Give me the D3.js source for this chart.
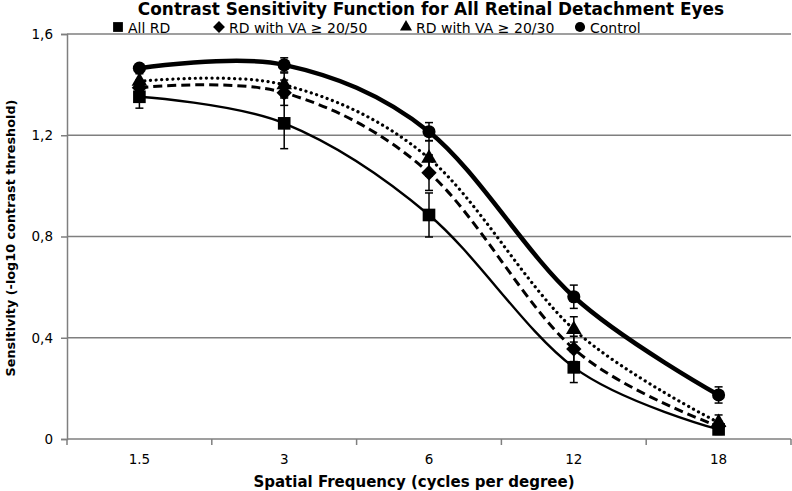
<!DOCTYPE html>
<html><head><meta charset="utf-8">
<script src="https://cdn.jsdelivr.net/npm/d3@7"></script>
<style>body{margin:0;background:#fff;} text{font-family:"DejaVu Sans",Verdana,sans-serif;}</style>
</head><body>
<svg id="c" width="792" height="491"></svg>
<script>
const categories = ["1.5","3","6","12","18"];
const yTicks = [0,0.4,0.8,1.2,1.6];
const allRD = [1.352,1.247,0.885,0.283,0.038];
const allRDErr = [0.045,0.1,0.087,0.06,0.02];
const va50 = [1.388,1.368,1.052,0.356,0.05];
const va50Err = [0.03,0.05,0.07,0.05,0.02];
const va30 = [1.413,1.399,1.109,0.433,0.065];
const va30Err = [0.03,0.047,0.07,0.05,0.03];
const control = [1.465,1.478,1.214,0.562,0.174];
const controlErr = [0.015,0.028,0.036,0.046,0.032];
const seriesNames = ["All RD","RD with VA \u2265 20/50","RD with VA \u2265 20/30","Control"];

const svg = d3.select("#c");
const L=67, R=791, T=34, B=439;
const x = d3.scaleBand().domain(categories).range([L,R]);
const y = d3.scaleLinear().domain([0,1.6]).range([B,T]);
const cx = c => x(c)+x.bandwidth()/2;

// gridlines
svg.append("g").selectAll("line").data(yTicks.filter(v=>v>0)).join("line")
  .attr("x1",L).attr("x2",R).attr("y1",d=>y(d)).attr("y2",d=>y(d))
  .attr("stroke","#7f7f7f").attr("stroke-width",1.5);

// y axis
const ya = svg.append("g").attr("transform",`translate(${L},0)`)
  .call(d3.axisLeft(y).tickValues(yTicks).tickSize(6).tickPadding(8).tickFormat(d=>String(d).replace(".",",")));
ya.select(".domain").attr("stroke","#7f7f7f").attr("stroke-width",1.5);
ya.selectAll(".tick line").attr("stroke","#7f7f7f").attr("stroke-width",1.5);
ya.selectAll("text").attr("font-size",13.5).attr("fill","#000").style("font-family","DejaVu Sans");

// x axis
svg.append("line").attr("x1",L).attr("x2",R).attr("y1",B).attr("y2",B).attr("stroke","#7f7f7f").attr("stroke-width",1.5);
const bounds = categories.map(c=>x(c)).concat([R]);
svg.append("g").selectAll("line").data(bounds).join("line")
  .attr("x1",d=>d).attr("x2",d=>d).attr("y1",B).attr("y2",B+6).attr("stroke","#7f7f7f").attr("stroke-width",1.5);
svg.append("g").selectAll("text").data(categories).join("text")
  .attr("x",d=>cx(d)).attr("y",B+25).attr("text-anchor","middle").attr("font-size",13.5).text(d=>d);

// titles
svg.append("text").attr("x",431).attr("y",15).attr("text-anchor","middle")
  .attr("font-size",16.9).attr("font-weight","bold").text("Contrast Sensitivity Function for All Retinal Detachment Eyes");
svg.append("text").attr("x",414).attr("y",487).attr("text-anchor","middle")
  .attr("font-size",15).attr("font-weight","bold").text("Spatial Frequency (cycles per degree)");
svg.append("text").attr("transform","translate(15,238) rotate(-90)").attr("text-anchor","middle")
  .attr("font-size",12.8).attr("font-weight","bold").text("Sensitivity (-log10 contrast threshold)");

const series = [
  {name:seriesNames[0], v:allRD, e:allRDErr, w:2.4, dash:null, sym:d3.symbolSquare, size:160},
  {name:seriesNames[1], v:va50, e:va50Err, w:3, dash:"9,5", sym:d3.symbolDiamond2, size:150},
  {name:seriesNames[2], v:va30, e:va30Err, w:3.2, dash:"0.1,5.5", cap:"round", sym:d3.symbolTriangle, size:105},
  {name:seriesNames[3], v:control, e:controlErr, w:4.5, dash:null, sym:d3.symbolCircle, size:135},
];
const line = d3.line().x((d,i)=>cx(categories[i])).y(d=>y(d)).curve(d3.curveCardinal.tension(0));

series.forEach(s=>{
  svg.append("path").datum(s.v).attr("d",line).attr("fill","none").attr("stroke","#000")
    .attr("stroke-width",s.w).attr("stroke-dasharray",s.dash).attr("stroke-linecap",s.cap||"butt");
});
series.forEach(s=>{
  const g = svg.append("g");
  s.v.forEach((v,i)=>{
    const X = cx(categories[i]);
    g.append("line").attr("x1",X).attr("x2",X).attr("y1",y(v+s.e[i])).attr("y2",y(v-s.e[i])).attr("stroke","#000").attr("stroke-width",1.5);
    [v+s.e[i], v-s.e[i]].forEach(t=>g.append("line").attr("x1",X-4).attr("x2",X+4).attr("y1",y(t)).attr("y2",y(t)).attr("stroke","#000").attr("stroke-width",1.5));
  });
  g.selectAll("path").data(s.v).join("path")
    .attr("transform",(d,i)=>`translate(${cx(categories[i])},${y(d)})`)
    .attr("d",d3.symbol(s.sym,s.size)).attr("fill","#000");
});

// legend
const legX = [118,219,406,580];
const lg = svg.append("g");
series.forEach((s,i)=>{
  lg.append("path").attr("transform",`translate(${legX[i]},27)`).attr("d",d3.symbol(s.sym,s.size*0.6)).attr("fill","#000");
  lg.append("text").attr("x",legX[i]+10).attr("y",33).attr("font-size",14).text(s.name);
});
</script>
</body></html>
